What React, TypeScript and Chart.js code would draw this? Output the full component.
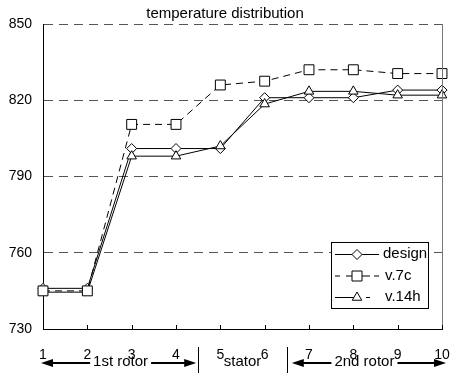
import React, { useEffect, useRef } from 'react';
import { Chart, registerables } from 'chart.js';

Chart.register(...registerables);

const FONT = '"Liberation Sans", Arial, Helvetica, sans-serif';

const chartTitle = 'temperature distribution';
const positions = [1, 2, 3, 4, 5, 6, 7, 8, 9, 10];
const design = [746, 746, 801, 801, 801, 821, 821, 821, 824, 824];
const v7c = [745, 745, 810.5, 810.5, 826, 827.5, 832, 832, 830.5, 830.5];
const v14h = [744.5, 744.5, 798, 798, 802, 818.5, 823.5, 823.5, 822, 822];
const yTicks = [730, 760, 790, 820, 850];
const seriesNames = ['design', 'v.7c', 'v.14h'];
const sectionNames = ['1st rotor', 'stator', '2nd rotor'];
const sectionBounds = [1, 4.5, 6.5, 10];

type Marker = 'diamond' | 'square' | 'triangle';

function drawMarker(ctx: CanvasRenderingContext2D, kind: Marker, x: number, y: number) {
  ctx.save();
  ctx.setLineDash([]);
  ctx.beginPath();
  if (kind === 'diamond') {
    const r = 5;
    ctx.moveTo(x, y - r);
    ctx.lineTo(x + r, y);
    ctx.lineTo(x, y + r);
    ctx.lineTo(x - r, y);
  } else if (kind === 'square') {
    const h = 5;
    ctx.rect(x - h, y - h, 2 * h, 2 * h);
  } else {
    const r = 5.5;
    ctx.moveTo(x, y - r);
    ctx.lineTo(x + r * 0.866, y + r * 0.5);
    ctx.lineTo(x - r * 0.866, y + r * 0.5);
  }
  ctx.closePath();
  ctx.fillStyle = '#fff';
  ctx.fill();
  ctx.strokeStyle = '#000';
  ctx.lineWidth = 1;
  ctx.stroke();
  ctx.restore();
}

function arrowHead(ctx: CanvasRenderingContext2D, tipX: number, y: number, dir: number) {
  ctx.beginPath();
  ctx.moveTo(tipX, y);
  ctx.lineTo(tipX - dir * 12, y - 4);
  ctx.lineTo(tipX - dir * 12, y + 4);
  ctx.closePath();
  ctx.fill();
}

const decorPlugin = {
  id: 'decor',
  afterDraw(chart: any) {
    const ctx: CanvasRenderingContext2D = chart.ctx;
    const { right, top, bottom } = chart.chartArea;
    const xs = chart.scales.x;
    ctx.save();
    // right border
    ctx.strokeStyle = '#777';
    ctx.lineWidth = 1;
    ctx.beginPath();
    ctx.moveTo(Math.round(right) + 0.5, top);
    ctx.lineTo(Math.round(right) + 0.5, bottom);
    ctx.stroke();
    // inner tick marks
    ctx.strokeStyle = '#000';
    positions.forEach((p) => {
      const px = Math.round(xs.getPixelForValue(p)) + 0.5;
      ctx.beginPath();
      ctx.moveTo(px, bottom);
      ctx.lineTo(px, bottom - 4);
      ctx.stroke();
    });
    // sections
    const ySep0 = bottom + 18;
    const yArrow = bottom + 34;
    [1, 2].forEach((i) => {
      const px = Math.round(xs.getPixelForValue(sectionBounds[i])) + 0.5;
      ctx.beginPath();
      ctx.moveTo(px, ySep0);
      ctx.lineTo(px, chart.height);
      ctx.stroke();
    });
    ctx.font = '15px ' + FONT;
    ctx.fillStyle = '#000';
    ctx.textAlign = 'center';
    ctx.textBaseline = 'middle';
    sectionNames.forEach((name, i) => {
      const a = xs.getPixelForValue(sectionBounds[i]);
      const b = xs.getPixelForValue(sectionBounds[i + 1]);
      const cx = (a + b) / 2;
      const tw = ctx.measureText(name).width;
      ctx.fillText(name, cx, yArrow - 1);
      if (i !== 1) {
        const x0 = i === 0 ? a - 2 : a + 5;
        const x1 = i === 0 ? b - 2 : b + 4;
        ctx.lineWidth = 2;
        ctx.beginPath();
        ctx.moveTo(x0 + 10, yArrow);
        ctx.lineTo(cx - tw / 2 - 3, yArrow);
        ctx.moveTo(cx + tw / 2 + 3, yArrow);
        ctx.lineTo(x1 - 10, yArrow);
        ctx.stroke();
        arrowHead(ctx, x0, yArrow, -1);
        arrowHead(ctx, x1, yArrow, 1);
      }
    });
    // legend
    const bx = 331.5, by = 242.5, bw = 97, bh = 66;
    ctx.fillStyle = '#fff';
    ctx.fillRect(bx, by, bw, bh);
    ctx.lineWidth = 1;
    ctx.strokeStyle = '#000';
    ctx.setLineDash([]);
    ctx.strokeRect(bx, by, bw, bh);
    const markers: Marker[] = ['diamond', 'square', 'triangle'];
    const rows = [254, 275.5, 297];
    ctx.textAlign = 'left';
    ctx.font = '15px ' + FONT;
    seriesNames.forEach((n, i) => {
      const y = rows[i] + 0.5;
      ctx.strokeStyle = '#000';
      ctx.lineWidth = 1;
      ctx.beginPath();
      if (i === 0) {
        ctx.moveTo(335, y); ctx.lineTo(379, y);
      } else if (i === 1) {
        ctx.moveTo(335, y); ctx.lineTo(340, y);
        ctx.moveTo(346, y); ctx.lineTo(370, y);
        ctx.moveTo(374, y); ctx.lineTo(379, y);
      } else {
        ctx.moveTo(335, y); ctx.lineTo(358, y);
        ctx.moveTo(366, y); ctx.lineTo(370, y);
      }
      ctx.stroke();
      drawMarker(ctx, markers[i], 357, y);
      ctx.fillStyle = '#000';
      ctx.fillText(n, i === 0 ? 383 : 385, rows[i]);
    });
    ctx.restore();
  },
};

export default function App() {
  const ref = useRef<HTMLCanvasElement | null>(null);
  useEffect(() => {
    document.body.style.margin = '0';
    const canvas = ref.current;
    if (!canvas) return;
    const toPts = (vals: number[]) => vals.map((v, i) => ({ x: positions[i], y: v }));
    const base = {
      borderColor: '#000',
      borderWidth: 1,
      pointBackgroundColor: '#fff',
      pointBorderColor: '#000',
      pointBorderWidth: 1,
      tension: 0,
      fill: false,
      clip: false as any,
    };
    const chart = new Chart(canvas, {
      type: 'line',
      data: {
        datasets: [
          { ...base, label: seriesNames[1], data: toPts(v7c), borderDash: [7, 5], pointStyle: 'rect', pointRadius: 7, pointHoverRadius: 7 },
          { ...base, label: seriesNames[2], data: toPts(v14h), pointStyle: 'triangle', pointRadius: 5.5, pointHoverRadius: 5.5 },
          { ...base, label: seriesNames[0], data: toPts(design), pointStyle: 'rectRot', pointRadius: 5, pointHoverRadius: 5 },
        ],
      },
      options: {
        responsive: false,
        animation: false,
        events: [],
        layout: { padding: { left: 0, right: 0, top: 0, bottom: 0 } },
        plugins: {
          legend: { display: false },
          tooltip: { enabled: false },
          title: {
            display: true,
            text: chartTitle,
            color: '#000',
            font: { size: 15, family: FONT, weight: 'normal' },
            padding: { top: 5, bottom: 1 },
          },
        },
        scales: {
          x: {
            type: 'linear',
            min: 1,
            max: 10,
            afterBuildTicks: (s: any) => { s.ticks = positions.map((v) => ({ value: v })); },
            afterFit: (s: any) => { s.height = 44; s.paddingLeft = 0; s.paddingRight = 8; },
            grid: { display: false, drawTicks: false },
            border: { display: true, color: '#000', width: 1 },
            ticks: { padding: 18, color: '#000', font: { size: 14, family: FONT }, maxRotation: 0, autoSkip: false },
          },
          y: {
            type: 'linear',
            min: 730,
            max: 850,
            afterBuildTicks: (s: any) => { s.ticks = yTicks.map((v) => ({ value: v })); },
            afterFit: (s: any) => { s.width = 43; },
            grid: {
              color: (c: any) => (c.tick && c.tick.value === 730 ? 'rgba(0,0,0,0)' : '#555'),
              drawTicks: false,
              lineWidth: 1,
            },
            border: { display: true, color: '#000', width: 1, dash: [9, 6] },
            ticks: { padding: 11, color: '#000', font: { size: 14, family: FONT } },
          },
        },
      },
      plugins: [decorPlugin],
    });
    return () => chart.destroy();
  }, []);
  return (
    <div style={{ width: 450, height: 373 }}>
      <canvas ref={ref} width={450} height={373} style={{ display: 'block' }} />
    </div>
  );
}
